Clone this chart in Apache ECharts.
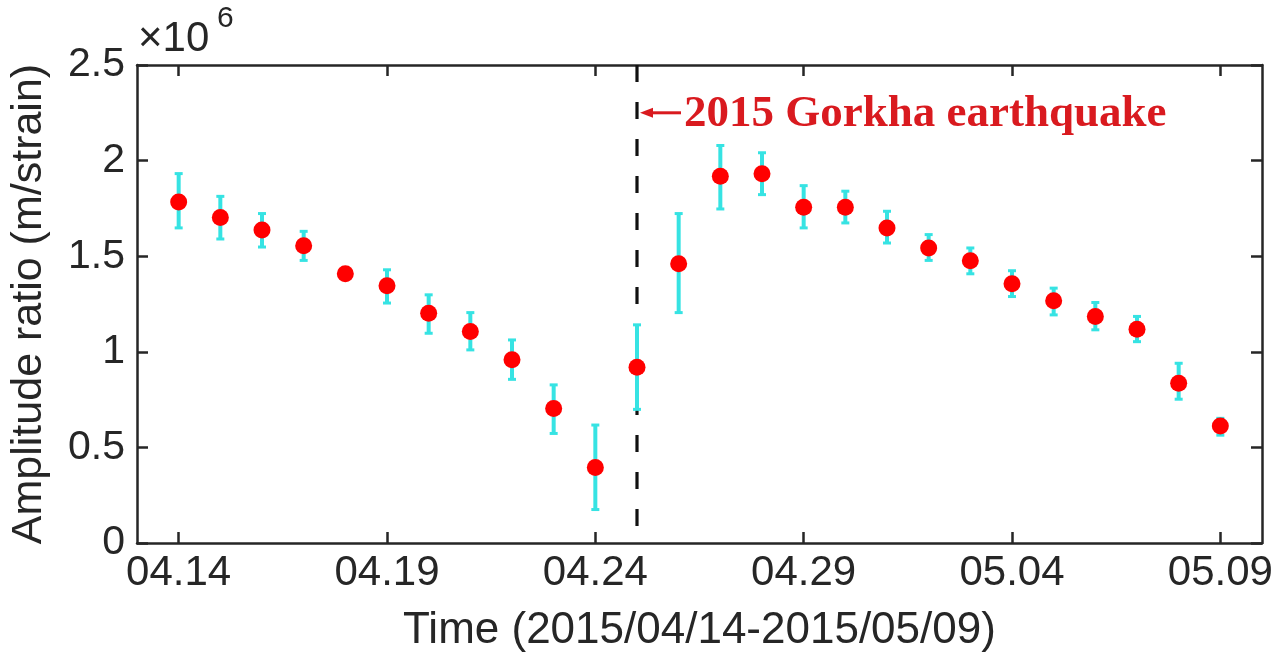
<!DOCTYPE html>
<html><head><meta charset="utf-8">
<script src="https://cdn.jsdelivr.net/npm/echarts@6/dist/echarts.min.js"></script>
<style>html,body{margin:0;padding:0;background:#fff}#c{width:1287px;height:667px}</style>
</head><body><div id="c"></div>
<script>
// ---- data ----
const dates = ['04.14','04.15','04.16','04.17','04.18','04.19','04.20','04.21','04.22','04.23','04.24','04.25','04.26',
               '04.27','04.28','04.29','04.30','05.01','05.02','05.03','05.04','05.05','05.06','05.07','05.08','05.09'];
const values = [1.784,1.703,1.637,1.555,1.408,1.345,1.202,1.106,0.958,0.704,0.395,0.919,1.461,
                1.918,1.931,1.756,1.756,1.648,1.543,1.476,1.356,1.267,1.185,1.118,0.835,0.612];
const lower  = [1.648,1.590,1.548,1.478,1.380,1.255,1.097,1.010,0.856,0.573,0.175,0.699,1.205,
                1.747,1.822,1.648,1.674,1.569,1.478,1.408,1.289,1.193,1.115,1.053,0.752,0.564];
const upper  = [1.932,1.813,1.723,1.630,1.438,1.429,1.298,1.205,1.062,0.827,0.617,1.141,1.723,
                2.079,2.041,1.869,1.840,1.735,1.613,1.543,1.424,1.333,1.258,1.185,0.940,0.652];
const xTickLabels = ['04.14','04.19','04.24','04.29','05.04','05.09'];
const yTicks = [0,0.5,1,1.5,2,2.5];
const eventDate = '04.25';
const eventLabel = '2015 Gorkha earthquake';
const eventLabelY = 2.25;
const xTitle = 'Time (2015/04/14-2015/05/09)';
const yTitle = 'Amplitude ratio (m/strain)';
const yExponent = ['\u00d710', '6'];

// ---- styles ----
const AX = '#262626';
const CYAN = '#36e3e3';
const RED = '#ff0000';
const ANN = '#d91a1f';
const FONT = 'Liberation Sans, Arial, Helvetica, sans-serif';

const xTickValues = xTickLabels.map(l => dates.indexOf(l));
const xMin = -1, xMax = dates.length;
const yMin = yTicks[0], yMax = yTicks[yTicks.length-1], yStep = yTicks[1]-yTicks[0];

const chart = echarts.init(document.getElementById('c'), null, {renderer:'canvas'});

const axisLine = {show:true, onZero:false, lineStyle:{color:AX, width:2.5}};
const axisTickX = {show:true, inside:true, length:11, customValues:xTickValues, lineStyle:{color:AX, width:2.5}};
const axisTickY = {show:true, inside:true, length:11, lineStyle:{color:AX, width:2.5}};

const option = {
  animation:false,
  backgroundColor:'#fff',
  grid:{left:135, right:25, top:65, bottom:124, containLabel:false},
  xAxis:[{
    type:'value', min:xMin, max:xMax, position:'bottom',
    axisLine, axisTick:axisTickX, splitLine:{show:false},
    axisLabel:{show:true, customValues:xTickValues, formatter:v => dates[Math.round(v)] || '',
      color:AX, fontFamily:FONT, fontSize:42, margin:9},
    name:xTitle, nameLocation:'middle', nameGap:66,
    nameTextStyle:{color:AX, fontFamily:FONT, fontSize:44}
  },{
    type:'value', min:xMin, max:xMax, position:'top',
    axisLine, axisTick:axisTickX, splitLine:{show:false}, axisLabel:{show:false}
  }],
  yAxis:[{
    type:'value', min:yMin, max:yMax, interval:yStep, position:'left',
    axisLine, axisTick:axisTickY, splitLine:{show:false},
    axisLabel:{color:AX, fontFamily:FONT, fontSize:41, margin:12},
    name:yTitle, nameLocation:'middle', nameGap:86,
    nameTextStyle:{color:AX, fontFamily:FONT, fontSize:43}
  },{
    type:'value', min:yMin, max:yMax, interval:yStep, position:'right',
    axisLine, axisTick:axisTickY, splitLine:{show:false}, axisLabel:{show:false}
  }],
  graphic:[
    {type:'text', left:138, top:18, style:{text:yExponent[0], fill:AX, font:'42px ' + FONT}},
    {type:'text', left:217, top:4, style:{text:yExponent[1], fill:AX, font:'30px ' + FONT}}
  ],
  series:[
    {
      name:'event', type:'custom', z:1, silent:true,
      data:[[dates.indexOf(eventDate), eventLabelY]],
      renderItem:(params, api) => {
        const x = api.value(0), y = api.value(1);
        const top = api.coord([x, yMax]), bot = api.coord([x, yMin]), p = api.coord([x, y]);
        return {type:'group', children:[
          {type:'line', shape:{x1:top[0], y1:top[1], x2:bot[0], y2:bot[1]},
           style:{stroke:'#111', lineWidth:3.2, lineDash:[17,20]}},
          {type:'line', shape:{x1:p[0]+12, y1:p[1], x2:p[0]+44, y2:p[1]},
           style:{stroke:ANN, lineWidth:3}},
          {type:'polygon', shape:{points:[[p[0]+3,p[1]],[p[0]+16,p[1]-5],[p[0]+16,p[1]+5]]},
           style:{fill:ANN}},
          {type:'text', x:p[0]+47, y:p[1]+2,
           style:{text:eventLabel, fill:ANN, font:'bold 45px Liberation Serif, Times New Roman, serif',
                  verticalAlign:'middle', align:'left'}}
        ]};
      }
    },
    {
      name:'errorbar', type:'custom', z:2, silent:true,
      data:dates.map((d,i) => [i, lower[i], upper[i]]),
      encode:{x:0, y:[1,2]},
      renderItem:(params, api) => {
        const x = api.value(0);
        const lo = api.coord([x, api.value(1)]), hi = api.coord([x, api.value(2)]);
        const cw = 4;
        return {type:'group', children:[
          {type:'line', shape:{x1:lo[0], y1:lo[1], x2:hi[0], y2:hi[1]}, style:{stroke:CYAN, lineWidth:4}},
          {type:'line', shape:{x1:lo[0]-cw, y1:lo[1], x2:lo[0]+cw, y2:lo[1]}, style:{stroke:CYAN, lineWidth:3}},
          {type:'line', shape:{x1:hi[0]-cw, y1:hi[1], x2:hi[0]+cw, y2:hi[1]}, style:{stroke:CYAN, lineWidth:3}}
        ]};
      }
    },
    {
      name:'ratio', type:'scatter', z:3, symbol:'circle', symbolSize:17,
      itemStyle:{color:RED, opacity:1},
      data:dates.map((d,i) => [i, values[i]])
    }
  ]
};
chart.setOption(option);
</script></body></html>
